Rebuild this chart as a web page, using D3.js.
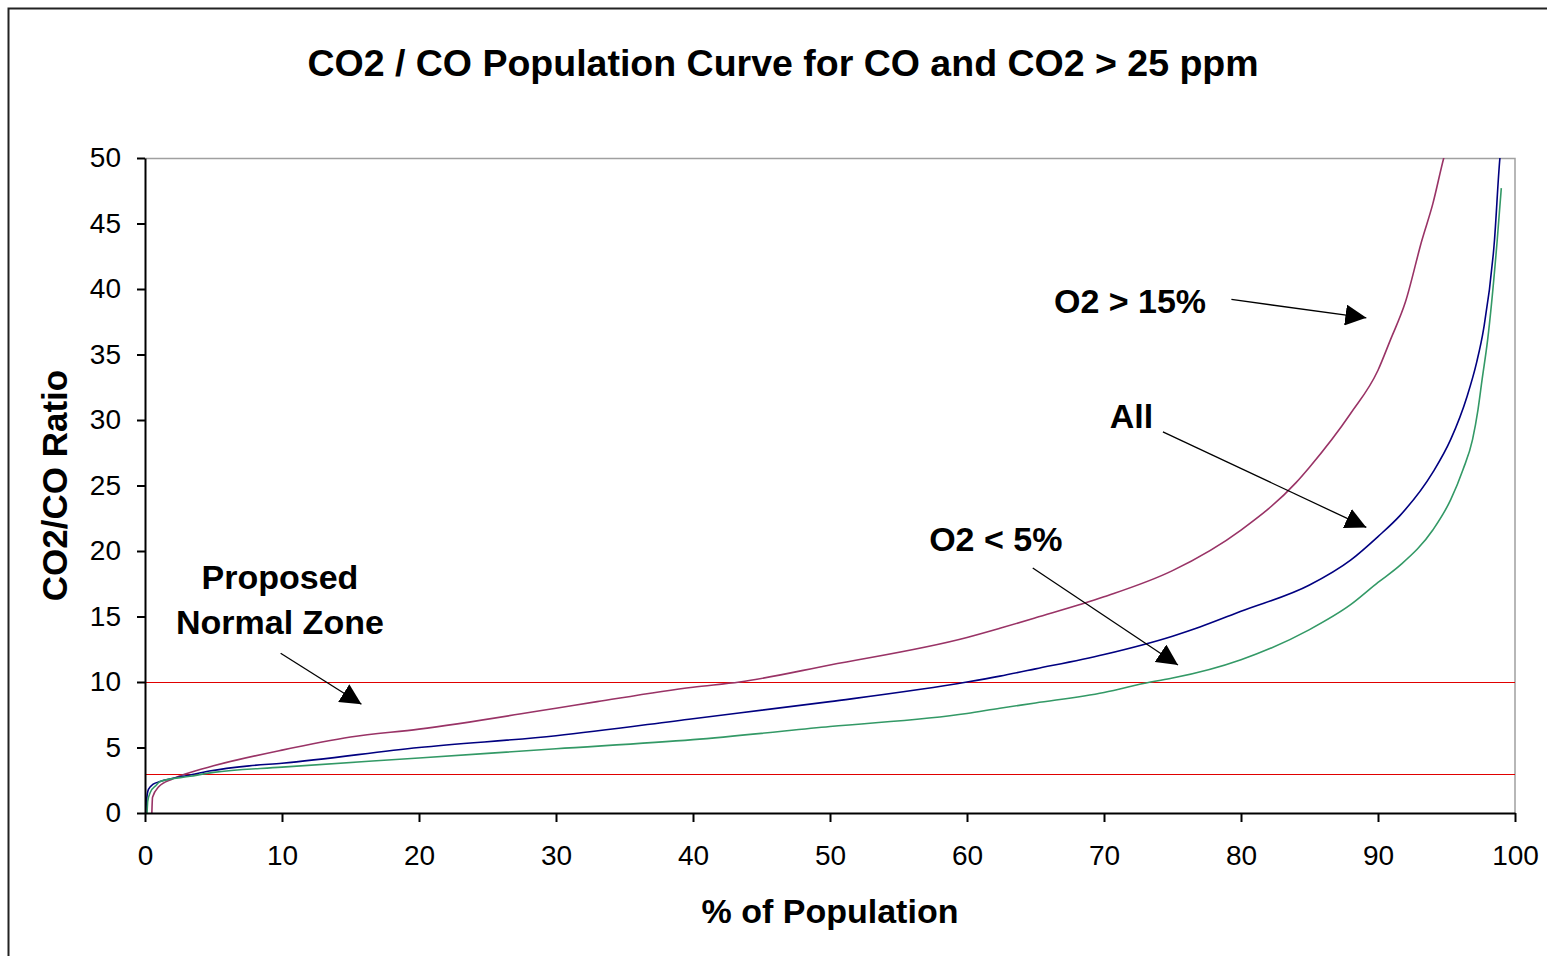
<!DOCTYPE html>
<html>
<head>
<meta charset="utf-8">
<script src="https://cdn.jsdelivr.net/npm/d3@7"></script>
<style>
  body { margin: 0; background: #fff; }
  svg { display: block; font-family: 'Liberation Sans', Arial, sans-serif; }
</style>
</head>
<body>
<div id="chart"></div>
<script>
// % of population (x) and CO2/CO ratio (y)
var o2HighPct = [0.5, 0.55, 1, 2, 3, 5, 10, 15, 20, 30, 33, 40, 43.4, 50, 60, 62.4, 65, 70, 75, 80, 84, 85, 88, 90, 90.9, 92, 93.2, 94, 94.8, 95.2]
var o2HighVal = [0, 1.2, 2.0, 2.6, 3.0, 3.6, 4.8, 5.8, 6.4, 8.0, 8.5, 9.6, 10.0, 11.3, 13.4, 14.1, 14.9, 16.5, 18.5, 21.6, 25.2, 26.4, 30.5, 33.8, 36.1, 39.0, 43.7, 46.5, 50, 51.5]

var allPct = [0.05, 0.1, 0.25, 0.6, 1.1, 3.3, 4.7, 7.6, 10, 20, 30, 40, 50, 60, 62.4, 65, 70, 75, 77, 80, 85, 88, 90, 91.6, 94, 95.3, 96.5, 97.2, 97.7, 98.5, 98.9, 99]
var allVal = [0, 0.8, 1.8, 2.2, 2.4, 2.9, 3.2, 3.6, 3.8, 5.0, 5.9, 7.2, 8.5, 10.0, 10.45, 11.0, 12.1, 13.5, 14.2, 15.4, 17.4, 19.3, 21.1, 22.7, 26.0, 28.5, 31.8, 34.4, 36.9, 43.7, 50, 51]

var o2LowPct = [0.15, 0.2, 0.4, 0.8, 1.1, 3.3, 5, 10, 20, 30, 40, 50, 60, 62.4, 65, 70, 73.4, 75, 80, 85, 88, 90, 91.6, 94, 95.3, 96.2, 96.9, 97.3, 97.6, 98.0, 98.7, 99]
var o2LowVal = [0, 0.9, 1.6, 2.1, 2.4, 2.8, 3.1, 3.5, 4.2, 4.9, 5.6, 6.6, 7.6, 8.0, 8.4, 9.2, 10.0, 10.3, 11.7, 14.0, 15.9, 17.6, 18.9, 21.6, 23.9, 26.2, 28.5, 30.8, 33.1, 36.1, 43.7, 47.7]

var seriesNames = ['O2 > 15%', 'All', 'O2 < 5%']
var seriesColors = ['#993366', '#000080', '#339966']
var xTicks = [0, 10, 20, 30, 40, 50, 60, 70, 80, 90, 100]
var yTicks = [0, 5, 10, 15, 20, 25, 30, 35, 40, 45, 50]
var zoneLines = [10, 3]

// labels and arrows, in data units
var notes = [
  { lines: ['O2 > 15%'], x: 71.9, y: 39.1, from: [79.3, 39.2], to: [89.15, 37.8] },
  { lines: ['All'], x: 72.0, y: 30.3, from: [74.3, 29.1], to: [89.15, 21.8] },
  { lines: ['O2 < 5%'], x: 62.1, y: 20.9, from: [64.8, 18.7], to: [75.4, 11.3] },
  { lines: ['Proposed', 'Normal Zone'], x: 9.85, y: 18.0, from: [9.9, 12.2], to: [15.8, 8.3] }
]

var W = 1547
var H = 956
var margin = { top: 158, left: 145, right: 32, bottom: 143 }
var width = W - margin.left - margin.right
var height = H - margin.top - margin.bottom

var svg = d3.select('#chart')
  .append('svg')
  .attr('width', W)
  .attr('height', H)

// outer chart border (runs off the right and bottom edges)
svg.append('rect')
  .attr('x', 8.5)
  .attr('y', 8.5)
  .attr('width', W + 20)
  .attr('height', H + 20)
  .attr('fill', 'none')
  .attr('stroke', '#222')
  .attr('stroke-width', 2)

svg.append('defs')
  .append('marker')
  .attr('id', 'head')
  .attr('viewBox', '0 0 10 10')
  .attr('refX', 10)
  .attr('refY', 5)
  .attr('markerUnits', 'userSpaceOnUse')
  .attr('markerWidth', 21)
  .attr('markerHeight', 21)
  .attr('orient', 'auto')
  .append('path')
  .attr('d', 'M0,0L10,5L0,10Z')
  .attr('fill', '#000')

var g = svg.append('g')
  .attr('transform', `translate(${margin.left},${margin.top})`)

var x = d3.scaleLinear().domain([0, 100]).range([0, width])
var y = d3.scaleLinear().domain([0, 50]).range([height, 0])

// plot frame: grey top and right
g.append('path')
  .attr('d', `M0,0.5H${width}V${height}`)
  .attr('fill', 'none')
  .attr('stroke', '#a0a0a0')
  .attr('stroke-width', 1.5)

g.append('clipPath')
  .attr('id', 'plot')
  .append('rect')
  .attr('width', width)
  .attr('height', height)

// red zone lines
g.selectAll('.zone')
  .data(zoneLines)
  .enter()
  .append('line')
  .attr('class', 'zone')
  .attr('x1', 0)
  .attr('x2', width)
  .attr('y1', d => Math.round(y(d)) + 0.5)
  .attr('y2', d => Math.round(y(d)) + 0.5)
  .attr('stroke', '#e00000')
  .attr('stroke-width', 1)

var series = [
  d3.zip(o2HighPct, o2HighVal),
  d3.zip(allPct, allVal),
  d3.zip(o2LowPct, o2LowVal)
]

var line = d3.line()
  .x(d => x(d[0]))
  .y(d => y(d[1]))
  .curve(d3.curveMonotoneX)

g.append('g')
  .attr('clip-path', 'url(#plot)')
  .selectAll('path')
  .data(series)
  .enter()
  .append('path')
  .attr('d', line)
  .attr('fill', 'none')
  .attr('stroke', (d, i) => seriesColors[i])
  .attr('stroke-width', 1.6)
  .attr('data-name', (d, i) => seriesNames[i])

// axes
var xAxis = g.append('g')
  .attr('transform', `translate(0,${height})`)
  .call(d3.axisBottom(x).tickValues(xTicks).tickSize(9).tickSizeOuter(0).tickPadding(23))
var yAxis = g.append('g')
  .call(d3.axisLeft(y).tickValues(yTicks).tickSize(8).tickSizeOuter(0).tickPadding(16))

;[xAxis, yAxis].forEach(a => {
  a.select('.domain').attr('stroke', '#000').attr('stroke-width', 2)
  a.selectAll('line').attr('stroke', '#000').attr('stroke-width', 2)
  a.selectAll('text')
    .attr('fill', '#000')
    .style('font-size', '28px')
    .style('font-family', "'Liberation Sans', Arial, sans-serif")
})

// titles
svg.append('text')
  .attr('x', 783)
  .attr('y', 76)
  .attr('text-anchor', 'middle')
  .style('font-size', '37.5px')
  .style('font-weight', 'bold')
  .text('CO2 / CO Population Curve for CO and CO2 > 25 ppm')

svg.append('text')
  .attr('x', margin.left + width / 2)
  .attr('y', 923)
  .attr('text-anchor', 'middle')
  .style('font-size', '34px')
  .style('font-weight', 'bold')
  .text('% of Population')

svg.append('text')
  .attr('transform', `translate(67,${margin.top + height / 2}) rotate(-90)`)
  .attr('text-anchor', 'middle')
  .style('font-size', '35px')
  .style('font-weight', 'bold')
  .text('CO2/CO Ratio')

// annotations
var note = g.selectAll('.note')
  .data(notes)
  .enter()
  .append('g')
  .attr('class', 'note')

note.append('line')
  .attr('x1', d => x(d.from[0]))
  .attr('y1', d => y(d.from[1]))
  .attr('x2', d => x(d.to[0]))
  .attr('y2', d => y(d.to[1]))
  .attr('stroke', '#000')
  .attr('stroke-width', 1.3)
  .attr('marker-end', 'url(#head)')

note.each(function (d) {
  var t = d3.select(this).append('text')
    .attr('text-anchor', 'middle')
    .style('font-size', '34px')
    .style('font-weight', 'bold')
  d.lines.forEach((s, i) => {
    t.append('tspan')
      .attr('x', x(d.x))
      .attr('y', y(d.y) + 12 + i * 45)
      .text(s)
  })
})
</script>
</body>
</html>
